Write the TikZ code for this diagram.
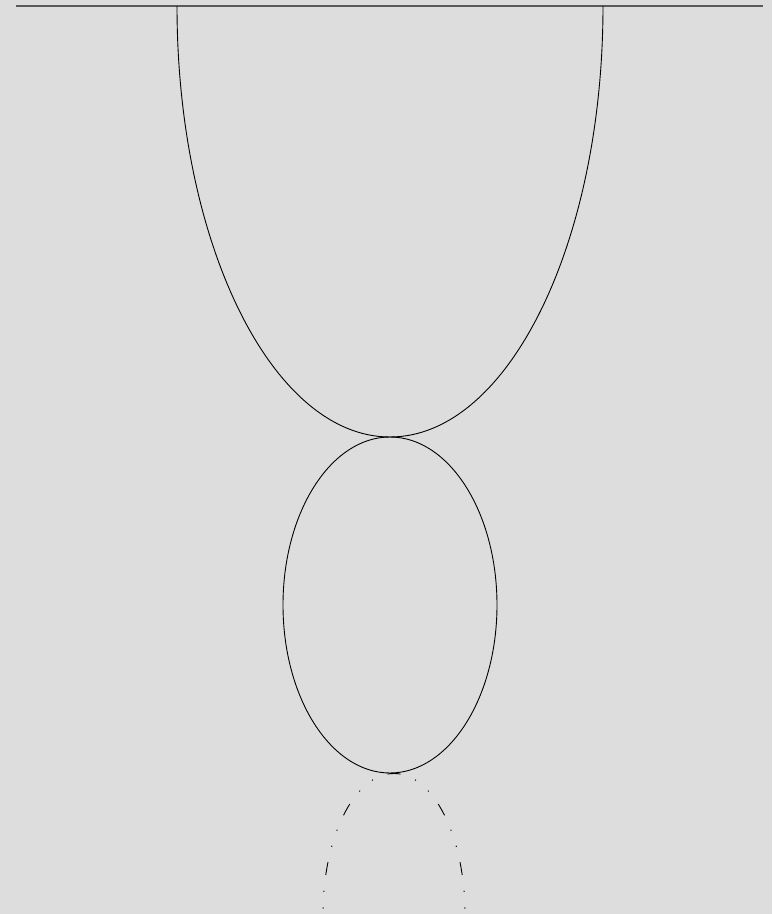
\documentclass[tikz,border=0pt]{standalone}
\begin{document}
\begin{tikzpicture}[x=1pt,y=1pt,
  curve/.style={draw=black,line width=0.9pt},
  topline/.style={draw={rgb,255:red,90;green,90;blue,90},line width=1.5pt},
  dashcurve/.style={draw=black,line width=0.9pt,dash pattern=on 13pt off 15.7pt on 1.2pt off 15.7pt on 1.2pt off 15.7pt,dash phase=6.5pt}]
\definecolor{bg}{RGB}{221,221,221}
\fill[bg] (0,0) rectangle (772,914);
\useasboundingbox (0,0) rectangle (772,914);
\draw[topline] (16,908) -- (763,908);
\draw[curve] (177,908) arc[start angle=180,end angle=360,x radius=213,y radius=431];
\draw[curve] (390,309) ellipse[x radius=107,y radius=168];
\draw[dashcurve] (394,140.5) arc[start angle=90,end angle=180,x radius=71,y radius=140.5];
\draw[dashcurve] (394,140.5) arc[start angle=90,end angle=0,x radius=71,y radius=140.5];
\end{tikzpicture}
\end{document}
